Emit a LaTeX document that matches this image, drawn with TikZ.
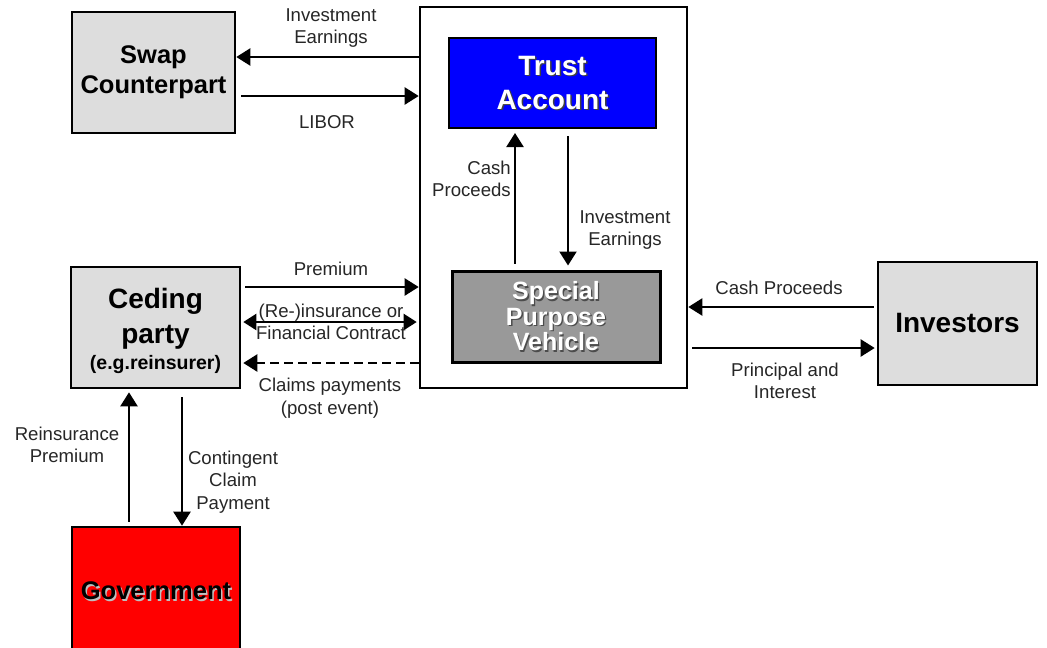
\documentclass[tikz,border=0pt]{standalone}
\usepackage{fontspec}
\setmainfont{Liberation Sans}
\usetikzlibrary{arrows.meta}
\definecolor{boxgray}{HTML}{DDDDDD}
\definecolor{spvgray}{HTML}{999999}
\definecolor{trustblue}{HTML}{0000FF}
\definecolor{govred}{HTML}{FF0000}
\definecolor{lblcol}{HTML}{262626}
\begin{document}
\begin{tikzpicture}[x=1pt,y=-1pt,
  box/.style={draw=black, line width=2.6pt, fill=boxgray, inner sep=0pt, align=center},
  boxtxt/.style={font=\bfseries\fontsize{25}{31}\selectfont, align=center},
  lbl/.style={font=\fontsize{18.6}{22.5}\selectfont, align=center, text=lblcol, inner sep=0pt},
  arr/.style={line width=2.2pt, -{Triangle[length=14pt,width=17pt]}},
  darr/.style={line width=2.2pt, {Triangle[length=13pt,width=16pt]}-{Triangle[length=13pt,width=16pt]}},
]
\useasboundingbox (0,0) rectangle (1047,648);
\clip (0,0) rectangle (1047,648);

% boxes
\node[box, minimum width=163pt, minimum height=121pt] (swap) at (153.5,72.5) {};
\node[boxtxt, font=\bfseries\fontsize{25.5}{30}\selectfont] (swaptxt) at (swap.center) {Swap\\Counterpart};

\node[draw=black, line width=2.6pt, fill=white, minimum width=267pt, minimum height=381pt, inner sep=0pt] (outer) at (553.5,197.5) {};

\node[draw=black, line width=2pt, fill=trustblue, minimum width=207pt, minimum height=90pt, inner sep=0pt] (trust) at (552.5,83) {};
\node[boxtxt, font=\bfseries\fontsize{28}{34}\selectfont, text=black!75] (trustsh) at ([shift={(1.5,1.5)}]trust.center) {Trust\\Account};
\node[boxtxt, font=\bfseries\fontsize{28}{34}\selectfont, text=white] (trusttxt) at (trust.center) {Trust\\Account};

\node[draw=black, line width=3pt, fill=spvgray, minimum width=208pt, minimum height=91pt, inner sep=0pt] (spv) at (556,316.5) {};
\node[boxtxt, font=\bfseries\fontsize{25}{25.5}\selectfont, text=black!70] (spvsh) at ([shift={(1.3,1.3)}]spv.center) {Special\\Purpose\\Vehicle};
\node[boxtxt, font=\bfseries\fontsize{25}{25.5}\selectfont, text=white] (spvtxt) at (spv.center) {Special\\Purpose\\Vehicle};

\node[box, minimum width=169pt, minimum height=121pt] (ceding) at (155.5,327.5) {};
\node[boxtxt, font=\bfseries\fontsize{28}{35}\selectfont] (cedingtxt) at (155.5,319) {Ceding\\party};
\node[font=\bfseries\fontsize{19.5}{23}\selectfont] (cedingsub) at (155.5,364) {(e.g.reinsurer)};

\node[box, minimum width=159pt, minimum height=123pt] (inv) at (957.5,323.5) {};
\node[boxtxt, font=\bfseries\fontsize{28}{34}\selectfont] (invtxt) at (inv.center) {Investors};

\node[draw=black, line width=2.6pt, fill=govred, minimum width=168pt, minimum height=128pt, inner sep=0pt] (gov) at (156,591) {};
\node[boxtxt, font=\bfseries\fontsize{25.5}{30}\selectfont, text=white!75!black] (govsh) at ([shift={(1.5,1.5)}]gov.center) {Government};
\node[boxtxt, font=\bfseries\fontsize{25.5}{30}\selectfont, text=black] (govtxt) at (gov.center) {Government};

% swap arrows
\draw[arr] (outer.west |- 0,57) -- (swap.east |- 0,57);
\draw[arr, shorten <=5pt] (swap.east |- 0,96) -- (outer.west |- 0,96);
\node[lbl] (l1) at (331,28) {Investment\\Earnings};
\node[lbl] (l2) at (327,122) {LIBOR};

% internal arrows
\draw[arr, shorten <=6pt, shorten >=4pt] (spv.north -| 515,0) -- (trust.south -| 515,0);
\draw[arr, shorten <=7pt, shorten >=4pt] (trust.south -| 568,0) -- (spv.north -| 568,0);
\node[lbl, align=right, anchor=east] (l3) at (511,179) {Cash\\Proceeds};
\node[lbl] (l4) at (625,230) {Investment\\Earnings};

% ceding arrows
\draw[arr, shorten <=4pt] (ceding.east |- 0,287) -- (outer.west |- 0,287);
\node[lbl] (l5) at (331,269) {Premium};
\draw[darr, shorten <=2pt, shorten >=2pt] (ceding.east |- 0,322) -- (outer.west |- 0,322);
\node[lbl] (l6) at (331,322) {(Re-)insurance or\\Financial Contract};
\draw[arr, dashed, dash pattern=on 9pt off 5pt, shorten >=2pt] (outer.west |- 0,363) -- (ceding.east |- 0,363);
\node[lbl] (l7) at (330,398) {Claims payments\\(post event)};

% investor arrows
\draw[arr, shorten <=3pt] (inv.west |- 0,307) -- (outer.east |- 0,307);
\node[lbl] (l8) at (779,288) {Cash Proceeds};
\draw[arr, shorten <=4pt, shorten >=2pt] (outer.east |- 0,348) -- (inv.west |- 0,348);
\node[lbl] (l9) at (785,381) {Principal and\\Interest};

% government arrows
\draw[arr, shorten <=4pt, shorten >=3pt] (gov.north -| 129,0) -- (ceding.south -| 129,0);
\node[lbl] (l10) at (67,445) {Reinsurance\\Premium};
\draw[arr, shorten <=8pt] (ceding.south -| 182,0) -- (gov.north -| 182,0);
\node[lbl] (l11) at (233,482) {Contingent\\Claim\\Payment};
\end{tikzpicture}
\end{document}
